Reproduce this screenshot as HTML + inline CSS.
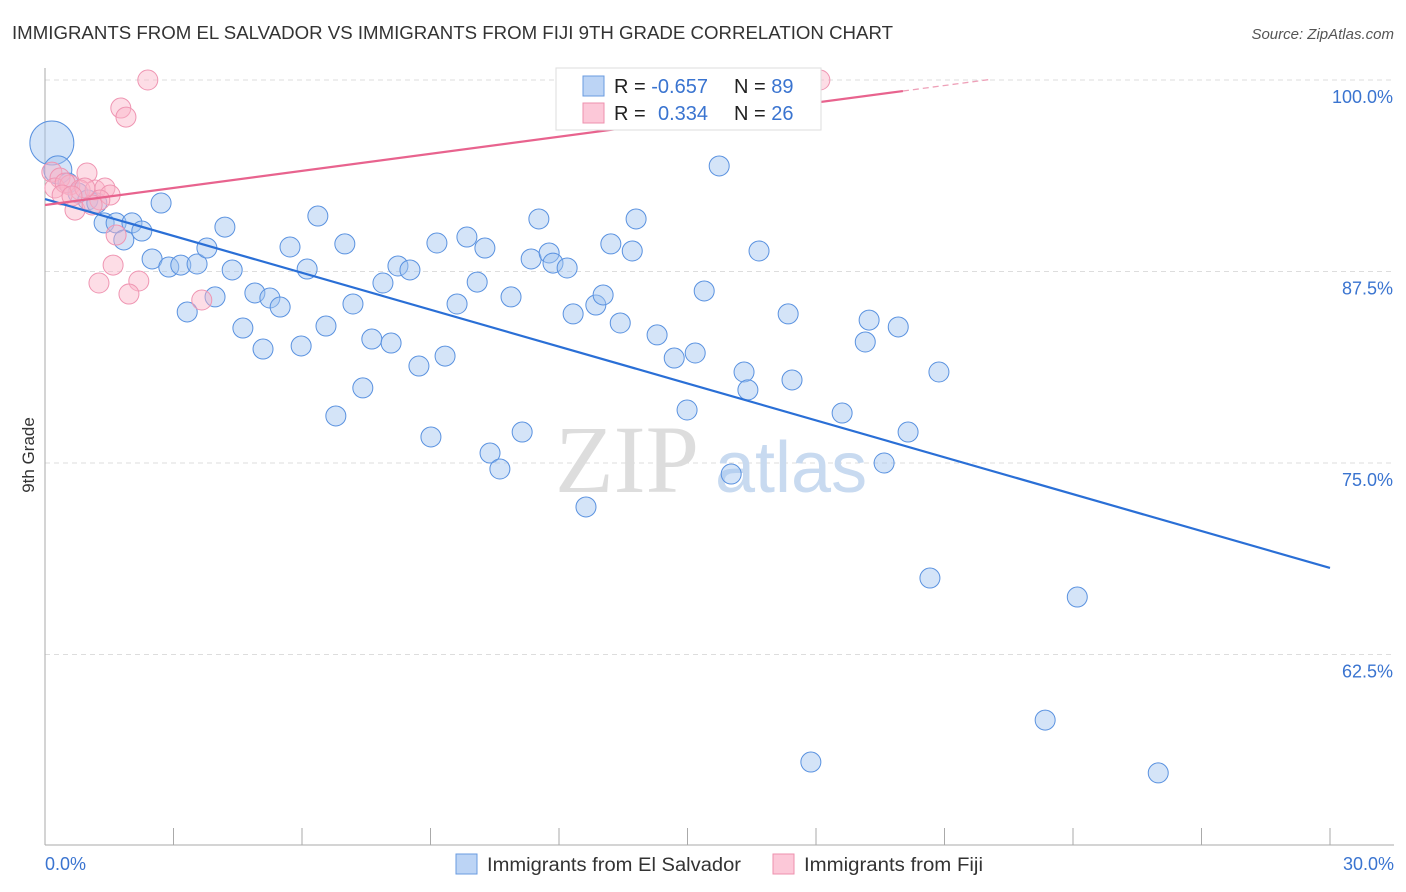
<!DOCTYPE html>
<html><head><meta charset="utf-8">
<style>
body{margin:0;background:#fff;font-family:"Liberation Sans",sans-serif;}
svg{display:block}
</style></head>
<body>
<svg id="chart" width="1406" height="892">
<text x="12" y="39" font-size="18" fill="#333" textLength="881" lengthAdjust="spacingAndGlyphs">IMMIGRANTS FROM EL SALVADOR VS IMMIGRANTS FROM FIJI 9TH GRADE CORRELATION CHART</text>
<text x="1394" y="39" font-size="15" fill="#555" font-style="italic" text-anchor="end">Source: ZipAtlas.com</text>
<text transform="translate(34,455) rotate(-90)" font-size="17" fill="#333" text-anchor="middle">9th Grade</text>
<g id="grid"></g>
<text x="555" y="492" font-size="96" fill="#ddd" font-family="Liberation Serif,serif">ZIP</text>
<text x="715" y="492" font-size="72" fill="#c8daf0">atlas</text>
<g id="marks"></g>
<g id="legend-box">
<rect x="556" y="68" width="265" height="62" fill="#fff" stroke="#ddd"/>
<rect x="583" y="76" width="21" height="20" fill="#bcd4f5" stroke="#6a9be0"/>
<rect x="583" y="103" width="21" height="20" fill="#fcc8d8" stroke="#ee90ae"/>
<text x="614" y="93" font-size="20" fill="#222">R = <tspan fill="#3a74d0">-0.657</tspan></text>
<text x="734" y="93" font-size="20" fill="#222">N = <tspan fill="#3a74d0">89</tspan></text>
<text x="614" y="120" font-size="20" fill="#222">R = <tspan fill="#3a74d0" x="658">0.334</tspan></text>
<text x="734" y="120" font-size="20" fill="#222">N = <tspan fill="#3a74d0">26</tspan></text>
</g>
<g>
<rect x="456" y="854" width="21" height="20" fill="#bcd4f5" stroke="#6a9be0"/>
<text x="487" y="871" font-size="19" fill="#333" textLength="254" lengthAdjust="spacingAndGlyphs">Immigrants from El Salvador</text>
<rect x="773" y="854" width="21" height="20" fill="#fcc8d8" stroke="#ee90ae"/>
<text x="804" y="871" font-size="19" fill="#333" textLength="179" lengthAdjust="spacingAndGlyphs">Immigrants from Fiji</text>
</g>
</svg>
<script>
const yTicks=[100,87.5,75,62.5];
const yTickLabels=["100.0%","87.5%","75.0%","62.5%"];
const xTickLabels=["0.0%","30.0%"];
const blueX=[0.16,0.30,0.54,0.77,1.00,1.21,1.38,1.66,1.84,2.03,2.26,2.50,2.71,2.89,3.17,3.32,3.55,3.78,3.97,4.20,4.37,4.62,4.90,5.09,5.25,5.49,5.72,5.98,6.12,6.37,6.56,6.79,7.00,7.19,7.42,7.63,7.89,8.08,8.24,8.52,8.73,9.01,9.15,9.34,9.62,9.85,10.09,10.27,10.39,10.62,10.88,11.14,11.35,11.53,11.77,11.86,12.19,12.33,12.63,12.86,13.03,13.21,13.43,13.71,13.80,14.29,14.69,14.99,15.18,15.39,15.74,16.02,16.32,16.41,16.67,17.35,17.44,17.88,18.61,19.15,19.24,19.59,19.92,20.15,20.66,20.87,23.35,24.10,25.99];
const blueY=[95.89,94.13,93.28,92.62,92.17,91.97,90.67,90.67,89.56,90.67,90.14,88.32,91.97,87.79,87.92,84.86,87.99,89.03,85.84,90.40,87.60,83.81,86.10,82.44,85.77,85.18,89.10,82.64,87.66,91.12,83.94,78.07,89.30,85.38,79.90,83.09,86.75,82.83,87.86,87.60,81.33,76.70,89.36,81.98,85.38,89.75,86.81,89.03,75.65,74.61,85.84,77.02,88.32,90.93,88.71,88.05,87.73,84.73,72.13,85.31,85.97,89.30,84.14,88.84,90.93,83.36,81.85,78.46,82.18,86.23,94.39,74.28,80.94,79.77,88.84,84.73,80.42,55.48,78.26,82.90,84.33,75.00,83.88,77.02,67.49,80.94,58.22,66.25,54.77];
const blueR=[22,14];
const pinkX=[2.40,1.77,1.89,0.16,0.98,0.35,0.23,0.58,0.47,0.82,1.17,1.40,1.52,0.70,1.28,1.10,1.66,1.59,1.26,2.19,1.96,3.66,18.09,0.40,0.93,0.63];
const pinkY=[100,98.17,97.58,93.99,93.93,93.60,92.95,93.15,93.28,92.82,92.82,92.95,92.49,91.51,92.17,91.84,89.88,87.92,86.75,86.88,86.03,85.64,100,92.49,92.95,92.43];
const blueLine=[[0,92.23],[30,68.15]];
const pinkLine=[[0,91.84],[20.03,99.28]];
const pinkDash=[[20.03,99.28],[22.1,100.05]];
const NS="http://www.w3.org/2000/svg";
const X=v=>45+v/30*1285, Y=v=>80+(100-v)*15.32;
function mk(tag,attrs,parent){const e=document.createElementNS(NS,tag);for(const k in attrs)e.setAttribute(k,attrs[k]);parent.appendChild(e);return e;}
const grid=document.getElementById('grid'), marks=document.getElementById('marks');
yTicks.forEach((t,i)=>{
 const l=mk('line',{x1:45,x2:1394,y1:Y(t),y2:Y(t),stroke:'#ddd','stroke-dasharray':'5,4'},grid);
 
 
 const tx=mk('text',{x:1393,y:Y(t)+23,'font-size':18,fill:'#3a74d0','text-anchor':'end'},grid);
 tx.textContent=yTickLabels[i];
 
 
});
const ax=mk('line',{x1:45,x2:45,y1:68,y2:845,stroke:'#aaa'},grid);


const bx=mk('line',{x1:45,x2:1394,y1:845,y2:845,stroke:'#aaa'},grid);


for(let i=1;i<=10;i++){const t=mk('line',{x1:X(i*3),x2:X(i*3),y1:828,y2:845,stroke:'#aaa'},grid);
 
 }
[[0,'start',45],[30,'end',1394]].forEach((d,i)=>{const t=mk('text',{x:d[2],y:870,'font-size':18,fill:'#3a74d0','text-anchor':d[1]},grid);t.textContent=xTickLabels[i];
 
 });
blueX.forEach((x,i)=>{const c=mk('circle',{cx:X(x),cy:Y(blueY[i]),r:blueR[i]||10,fill:'rgba(160,195,240,0.45)',stroke:'#5a92e0','stroke-width':1},marks);
 
 });
pinkX.forEach((x,i)=>{const c=mk('circle',{cx:X(x),cy:Y(pinkY[i]),r:10,fill:'rgba(250,180,200,0.45)',stroke:'#ef95b2','stroke-width':1},marks);
 
 });
const bl=mk('line',{x1:X(blueLine[0][0]),y1:Y(blueLine[0][1]),x2:X(blueLine[1][0]),y2:Y(blueLine[1][1]),stroke:'#2a6fd6','stroke-width':2.2},marks);


const pl=mk('line',{x1:X(pinkLine[0][0]),y1:Y(pinkLine[0][1]),x2:X(pinkLine[1][0]),y2:Y(pinkLine[1][1]),stroke:'#e8638e','stroke-width':2.2},marks);


const pd=mk('line',{x1:X(pinkDash[0][0]),y1:Y(pinkDash[0][1]),x2:X(pinkDash[1][0]),y2:Y(pinkDash[1][1]),stroke:'#eea0b8','stroke-width':1.3,'stroke-dasharray':'6,4'},marks);


</script>
</body></html>
